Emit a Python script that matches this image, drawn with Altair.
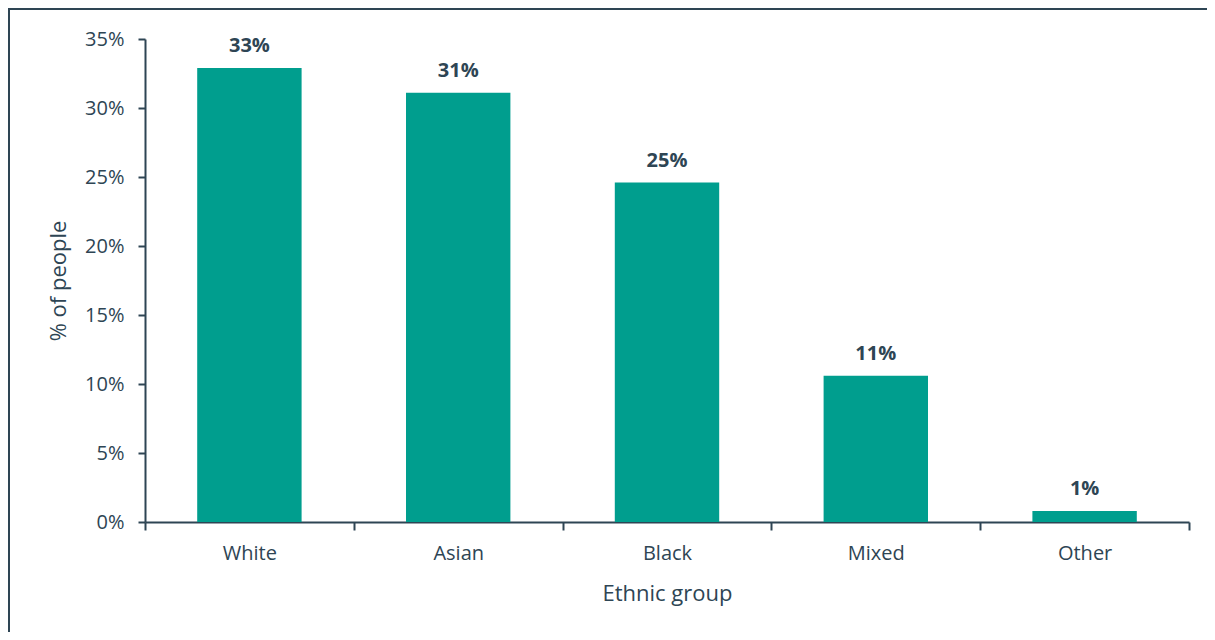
import altair as alt
import pandas as pd

groups = ["White", "Asian", "Black", "Mixed", "Other"]
shares = [0.329, 0.311, 0.246, 0.106, 0.008]

df = pd.DataFrame({"group": groups, "share": shares})

INK = "#2E4554"
TEAL = "#009E8E"
FONT = "Open Sans"

x_enc = alt.X(
    "group:N", sort=groups, title="Ethnic group",
    scale=alt.Scale(paddingInner=0, paddingOuter=0),
    axis=alt.Axis(labelAngle=0, tickBand="extent", tickSize=8, tickWidth=2,
                  domainWidth=2, domainColor=INK, tickColor=INK,
                  labelColor=INK, labelFont=FONT, labelFontSize=20, labelPadding=13,
                  titleFont=FONT, titleFontSize=22, titleFontWeight="normal",
                  titleColor=INK, titlePadding=20),
)
y_enc = alt.Y(
    "share:Q", title="% of people",
    scale=alt.Scale(domain=[0, 0.35], nice=False),
    axis=alt.Axis(values=[0, 0.05, 0.10, 0.15, 0.20, 0.25, 0.30, 0.35], format=".0%",
                  grid=False, tickSize=7, tickWidth=2, domainWidth=2,
                  domainColor=INK, tickColor=INK, labelColor=INK, labelFont=FONT,
                  labelFontSize=20, labelPadding=14, titleFont=FONT, titleFontSize=22,
                  titleFontWeight="normal", titleColor=INK, titlePadding=14),
)

base = alt.Chart(df)
bars = base.mark_bar(color=TEAL, width=alt.RelativeBandSize(0.5)).encode(x=x_enc, y=y_enc)
labels = base.mark_text(font=FONT, fontSize=20, fontWeight="bold", color=INK,
                        baseline="alphabetic", dy=-16).encode(
    x=alt.X("group:N", sort=groups), y="share:Q", text=alt.Text("share:Q", format=".0%"))

frame = alt.Chart(pd.DataFrame({"k": [0]}))
top_line = frame.mark_rule(color=INK, strokeWidth=2).encode(
    x=alt.value(-137), x2=alt.value(1070), y=alt.value(-30))
left_line = frame.mark_rule(color=INK, strokeWidth=2).encode(
    x=alt.value(-136), y=alt.value(-31), y2=alt.value(700))

chart = alt.layer(bars, labels, top_line, left_line).properties(
    width=1044, height=483,
    autosize="none",
    padding={"left": 137, "top": 31, "right": 18, "bottom": 110},
    background="white",
).configure_view(stroke=None)

chart.save("out.html", embed_options={"renderer": "svg", "actions": False})
